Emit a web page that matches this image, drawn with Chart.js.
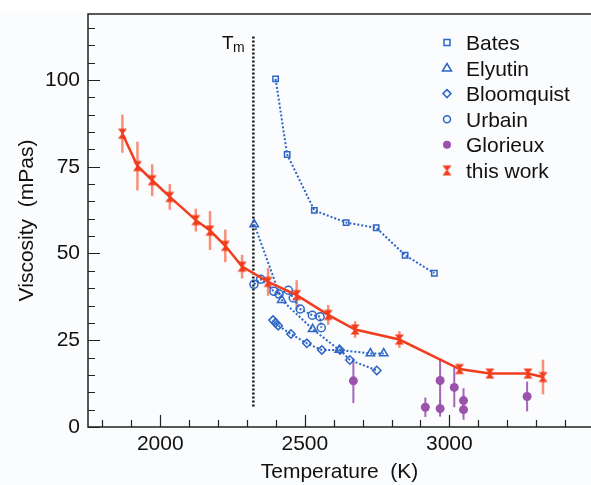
<!DOCTYPE html>
<html>
<head>
<meta charset="utf-8">
<script src="https://cdn.jsdelivr.net/npm/chart.js@4.4.1/dist/chart.umd.min.js"></script>
<style>
  html, body { margin: 0; padding: 0; background: #fbfcfe; }
  #wrap { width: 591px; height: 485px; }
</style>
</head>
<body>
<div id="wrap"><canvas id="viscChart" width="591" height="485"></canvas></div>
<script>
// data (T in K, viscosity in mPas)
const batesT = [2399, 2439, 2533, 2643, 2747, 2847, 2948];
const batesV = [100.3, 78.5, 62.4, 58.9, 57.4, 49.5, 44.3];

const elyutinT = [2325, 2420, 2527, 2619, 2727, 2773];
const elyutinV = [58.4, 36.6, 28.2, 22.2, 21.2, 21.2];

const bloomquistT = [2390, 2399, 2408, 2452, 2507, 2559, 2622, 2656, 2749];
const bloomquistV = [30.8, 30.0, 29.2, 26.8, 24.1, 22.2, 22.2, 19.3, 16.3];

const urbainT = [2324, 2347, 2393, 2411, 2443, 2460, 2484, 2526, 2553, 2557];
const urbainV = [41.1, 42.6, 39.1, 38.3, 39.4, 37.2, 34.0, 32.2, 31.8, 28.6];

const glorieuxT = [2668, 2917, 2968, 2968, 3017, 3049, 3049, 3269];
const glorieuxV = [13.3, 5.7, 13.4, 5.3, 11.4, 7.6, 5.0, 8.8];
const glorieuxErr = [6.4, 2.8, 6.4, 2.3, 5.7, 3.6, 2.9, 4.3];

const thisWorkT = [1869, 1921, 1972, 2033, 2123, 2172, 2225, 2283, 2373, 2472, 2581, 2674, 2827, 3035, 3140, 3272, 3324];
const thisWorkV = [84.5, 75.2, 71.1, 66.3, 59.6, 56.6, 52.2, 46.2, 41.8, 38.0, 32.3, 28.1, 25.2, 16.7, 15.4, 15.4, 14.4];
const thisWorkErr = [5.5, 7.0, 4.6, 3.7, 3.3, 5.6, 4.7, 3.4, 4.0, 4.3, 2.9, 2.4, 2.4, 1.3, 1.0, 1.2, 5.0];

const meltT = [2322, 2322];
const meltV = [5.9, 112.7];

const xTickValues = [2000, 2500, 3000];
const yTickValues = [0, 25, 50, 75, 100];

const legendLabels = ["Bates", "Elyutin", "Bloomquist", "Urbain", "Glorieux", "this work"];

const BLUE = "#2d66c6";
const PURPLE = "#9a52ad";
const RED = "#f23d1d";
const FONT = "'Liberation Sans', Arial, Helvetica, sans-serif";

function pts(xs, ys) {
    return xs.map((x, i) => ({ x: x, y: ys[i] }));
}

// hourglass marker used for "this work"
function makeHourglass(color) {
    const c = document.createElement("canvas");
    c.width = 11;
    c.height = 13;
    const g = c.getContext("2d");
    g.fillStyle = color;
    g.beginPath();
    g.moveTo(1, 1.5);
    g.lineTo(10, 1.5);
    g.lineTo(6.2, 6.5);
    g.lineTo(10, 11.5);
    g.lineTo(1, 11.5);
    g.lineTo(4.8, 6.5);
    g.closePath();
    g.fill();
    return c;
}
const hourglass = makeHourglass(RED);

const errorSets = [
    { t: thisWorkT, v: thisWorkV, e: thisWorkErr, color: "rgba(247,115,85,0.8)", width: 2.5 },
    { t: glorieuxT, v: glorieuxV, e: glorieuxErr, color: "rgba(155,85,175,0.9)", width: 2 }
];

function drawMarker(ctx, kind, x, y) {
    ctx.save();
    ctx.strokeStyle = BLUE;
    ctx.lineWidth = 1.5;
    ctx.beginPath();
    if (kind === 0) {
        ctx.rect(x - 3, y - 3, 6, 6);
        ctx.stroke();
    } else if (kind === 1) {
        ctx.moveTo(x, y - 4.5);
        ctx.lineTo(x + 4.5, y + 3);
        ctx.lineTo(x - 4.5, y + 3);
        ctx.closePath();
        ctx.stroke();
    } else if (kind === 2) {
        ctx.moveTo(x, y - 4);
        ctx.lineTo(x + 4, y);
        ctx.lineTo(x, y + 4);
        ctx.lineTo(x - 4, y);
        ctx.closePath();
        ctx.stroke();
    } else if (kind === 3) {
        ctx.arc(x, y, 3.5, 0, Math.PI * 2);
        ctx.stroke();
    } else if (kind === 4) {
        ctx.fillStyle = PURPLE;
        ctx.arc(x, y, 4, 0, Math.PI * 2);
        ctx.fill();
    } else {
        ctx.drawImage(hourglass, x - 5.5, y - 6.5);
    }
    ctx.restore();
}

const decorPlugin = {
    id: "decor",
    beforeDraw(chart) {
        const ctx = chart.ctx;
        ctx.save();
        ctx.fillStyle = "#fbfcfe";
        ctx.fillRect(0, 0, chart.width, chart.height);
        ctx.fillStyle = "#ffffff";
        ctx.fillRect(0, 0, chart.width, 12);
        ctx.restore();
    },
    beforeDatasetsDraw(chart) {
        const ctx = chart.ctx;
        const xs = chart.scales.x, ys = chart.scales.y;
        ctx.save();
        errorSets.forEach(s => {
            ctx.strokeStyle = s.color;
            ctx.lineWidth = s.width;
            s.t.forEach((t, i) => {
                const px = xs.getPixelForValue(t);
                ctx.beginPath();
                ctx.moveTo(px, ys.getPixelForValue(s.v[i] + s.e[i]));
                ctx.lineTo(px, ys.getPixelForValue(s.v[i] - s.e[i]));
                ctx.stroke();
            });
        });
        ctx.restore();
    },
    afterDraw(chart) {
        const ctx = chart.ctx;
        const xs = chart.scales.x, ys = chart.scales.y;
        const a = chart.chartArea;
        ctx.save();
        ctx.strokeStyle = "#222";
        ctx.lineWidth = 1.5;
        // frame: left, bottom, top
        ctx.beginPath();
        ctx.moveTo(a.right, a.top);
        ctx.lineTo(a.left, a.top);
        ctx.lineTo(a.left, a.bottom);
        ctx.lineTo(a.right, a.bottom);
        ctx.stroke();
        // inward ticks
        ctx.lineWidth = 1.2;
        ctx.beginPath();
        for (let v = 1800; v <= 3400; v += 100) {
            const px = Math.round(xs.getPixelForValue(v)) + 0.5;
            const len = v % 500 === 0 ? 12 : 7;
            ctx.moveTo(px, a.bottom);
            ctx.lineTo(px, a.bottom - len);
        }
        for (let v = 0; v <= 115; v += 5) {
            const py = Math.round(ys.getPixelForValue(v)) + 0.5;
            const len = v % 25 === 0 ? 12 : 7;
            ctx.moveTo(a.left, py);
            ctx.lineTo(a.left + len, py);
        }
        ctx.stroke();

        // melting point label
        ctx.fillStyle = "#111";
        ctx.textBaseline = "alphabetic";
        ctx.font = "19px " + FONT;
        ctx.fillText("T", 222, 48.5);
        ctx.font = "14px " + FONT;
        ctx.fillText("m", 233, 52);

        // legend
        ctx.font = "21px " + FONT;
        legendLabels.forEach((lab, i) => {
            const base = 50 + i * 25.6;
            drawMarker(ctx, i, 447, base - 7.6);
            ctx.fillStyle = "#111";
            ctx.fillText(lab, 466, base);
        });
        ctx.restore();
    }
};

const lineDash = [2, 2];

new Chart(document.getElementById("viscChart"), {
    type: "scatter",
    data: {
        datasets: [
            {
                label: "this work",
                data: pts(thisWorkT, thisWorkV),
                showLine: true,
                borderColor: RED,
                borderWidth: 2.5,
                pointStyle: hourglass,
                order: 0
            },
            {
                label: "Glorieux",
                data: pts(glorieuxT, glorieuxV),
                showLine: false,
                pointStyle: "circle",
                pointRadius: 4.5,
                backgroundColor: PURPLE,
                borderColor: PURPLE,
                borderWidth: 0,
                order: 1
            },
            {
                label: "Urbain",
                data: pts(urbainT, urbainV),
                showLine: true,
                borderColor: BLUE,
                borderWidth: 2,
                borderDash: lineDash,
                pointStyle: "circle",
                pointRadius: 4,
                pointBorderWidth: 1.5,
                backgroundColor: "rgba(0,0,0,0)",
                order: 2
            },
            {
                label: "Bloomquist",
                data: pts(bloomquistT, bloomquistV),
                showLine: true,
                borderColor: BLUE,
                borderWidth: 2,
                borderDash: lineDash,
                pointStyle: "rectRot",
                pointRadius: 4.2,
                pointBorderWidth: 1.5,
                backgroundColor: "rgba(0,0,0,0)",
                order: 3
            },
            {
                label: "Elyutin",
                data: pts(elyutinT, elyutinV),
                showLine: true,
                borderColor: BLUE,
                borderWidth: 2,
                borderDash: lineDash,
                pointStyle: "triangle",
                pointRadius: 4.8,
                pointBorderWidth: 1.5,
                backgroundColor: "rgba(0,0,0,0)",
                order: 4
            },
            {
                label: "Bates",
                data: pts(batesT, batesV),
                showLine: true,
                borderColor: BLUE,
                borderWidth: 2,
                borderDash: lineDash,
                pointStyle: "rect",
                pointRadius: 3.8,
                pointBorderWidth: 1.5,
                backgroundColor: "rgba(0,0,0,0)",
                order: 5
            },
            {
                label: "Tm",
                data: pts(meltT, meltV),
                showLine: true,
                borderColor: "#111",
                borderWidth: 2.5,
                borderDash: [2, 2],
                pointRadius: 0,
                order: 6
            }
        ]
    },
    options: {
        responsive: false,
        animation: false,
        devicePixelRatio: 1,
        layout: {
            autoPadding: false,
            padding: { top: 14, left: 0, right: 0, bottom: 0 }
        },
        plugins: {
            legend: { display: false },
            tooltip: { enabled: false }
        },
        scales: {
            x: {
                type: "linear",
                min: 1750,
                max: 3490,
                grid: { display: false, drawTicks: false },
                border: { display: false },
                afterBuildTicks: s => { s.ticks = xTickValues.map(v => ({ value: v })); },
                afterFit: s => {
                    s.height = 58;
                    s.paddingLeft = 0;
                    s.paddingRight = 0;
                },
                ticks: {
                    padding: 5,
                    color: "#111",
                    font: { family: FONT, size: 21 },
                    callback: v => String(v)
                },
                title: {
                    display: true,
                    text: "Temperature  (K)",
                    color: "#111",
                    font: { family: FONT, size: 21 },
                    padding: { top: 0, bottom: 0 }
                }
            },
            y: {
                type: "linear",
                min: 0,
                max: 119,
                grid: { display: false, drawTicks: false },
                border: { display: false },
                afterBuildTicks: s => { s.ticks = yTickValues.map(v => ({ value: v })); },
                afterFit: s => {
                    s.width = 88;
                    s.paddingTop = 0;
                    s.paddingBottom = 0;
                },
                ticks: {
                    padding: 8,
                    color: "#111",
                    font: { family: FONT, size: 21 },
                    callback: v => String(v)
                },
                title: {
                    display: true,
                    text: "Viscosity  (mPas)",
                    color: "#111",
                    font: { family: FONT, size: 21 },
                    padding: { top: 15, bottom: 0 }
                }
            }
        }
    },
    plugins: [decorPlugin]
});
</script>
</body>
</html>
